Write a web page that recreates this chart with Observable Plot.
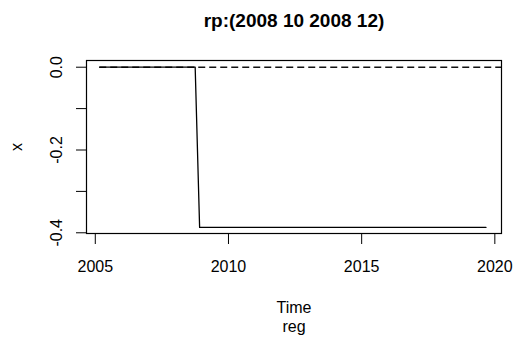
<!DOCTYPE html>
<html>
<head>
<meta charset="utf-8">
<script src="https://cdn.jsdelivr.net/npm/d3@7"></script>
<script src="https://cdn.jsdelivr.net/npm/@observablehq/plot@0.6"></script>
<style>
  html, body { margin: 0; padding: 0; background: #fff; }
  svg { display: block; }
</style>
</head>
<body>
<div id="chart"></div>
<script>
// Series (monthly time series, breakpoints)
const times = [2005.167, 2008.75, 2008.917, 2019.667];
const values = [0, 0, -0.387, -0.387];
// Tick labels
const xTicks = [2005, 2010, 2015, 2020];
const yTicks = [0, -0.1, -0.2, -0.3, -0.4];
const yLabels = [0, -0.2, -0.4];
const titleText = "rp:(2008 10 2008 12)";
const xLabel = "Time";
const subLabel = "reg";
const yLabel = "x";
const refLevel = [0];

const data = times.map((t, i) => ({t, v: values[i]}));
const font = "Liberation Sans, Arial, Helvetica, sans-serif";

const chart = Plot.plot({
  width: 517,
  height: 338,
  marginLeft: 86,
  marginRight: 16,
  marginTop: 60,
  marginBottom: 105,
  style: {fontFamily: font, background: "#fff", color: "#000"},
  x: {domain: [2004.67, 2020.25]},
  y: {domain: [-0.4017, 0.0162]},
  marks: [
    Plot.ruleY(refLevel, {x1: times[0], x2: 2020.25, stroke: "#111", strokeWidth: 1.4, strokeDasharray: "7,4"}),
    Plot.line(data, {x: "t", y: "v", stroke: "#000", strokeWidth: 1.3}),
    Plot.frame({stroke: "#000", strokeWidth: 1.2}),
    Plot.axisX({ticks: xTicks, tickSize: 11, tickPadding: 16, fontSize: 16, tickFormat: d => String(d), label: null, stroke: "#000"}),
    Plot.axisY({ticks: yTicks, tickSize: 10, tickFormat: () => "", label: null, stroke: "#000"}),
    Plot.text(yLabels, {y: d => d, text: d => d3.format(".1f")(d).replace("−", "-"), frameAnchor: "left", dx: -30, rotate: -90, textAnchor: "middle", lineAnchor: "middle", fontSize: 16, fill: "#000"}),
    Plot.text([yLabel], {frameAnchor: "left", dx: -70, rotate: -90, textAnchor: "middle", lineAnchor: "middle", fontSize: 16, fill: "#000"}),
    Plot.text([xLabel], {frameAnchor: "bottom", dy: 74, textAnchor: "middle", lineAnchor: "middle", fontSize: 16, fill: "#000"}),
    Plot.text([subLabel], {frameAnchor: "bottom", dy: 93, textAnchor: "middle", lineAnchor: "middle", fontSize: 16, fill: "#000"}),
    Plot.text([titleText], {frameAnchor: "top", dy: -40, textAnchor: "middle", lineAnchor: "middle", fontSize: 19, fontWeight: "bold", fill: "#000"})
  ]
});
document.getElementById("chart").appendChild(chart);
</script>
</body>
</html>
